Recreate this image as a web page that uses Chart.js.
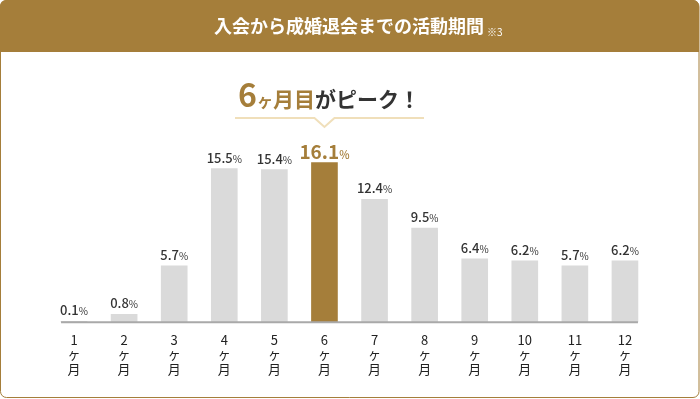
<!DOCTYPE html>
<html lang="ja">
<head>
<meta charset="utf-8">
<script src="https://cdn.jsdelivr.net/npm/chart.js@4/dist/chart.umd.min.js"></script>
<style>
  html, body { margin: 0; padding: 0; background: #fff; }
  #wrap { width: 700px; height: 399px; position: relative; }
</style>
</head>
<body>
<div id="wrap"><canvas id="myChart" width="700" height="399"></canvas></div>
<script>
// data
const months = [1, 2, 3, 4, 5, 6, 7, 8, 9, 10, 11, 12];
const shares = [0.1, 0.8, 5.7, 15.5, 15.4, 16.1, 12.4, 9.5, 6.4, 6.2, 5.7, 6.2];
const peakIndex = 5;
const title = '入会から成婚退会までの活動期間';
const titleNote = '※3';

const BROWN = '#a57e3a';
const GRAY = '#dadada';
const FONT = '"Noto Sans CJK JP", "Noto Sans", sans-serif';

const labels = months.map(m => [String(m), 'ヶ', '月']);

const frame = {
    id: 'frame',
    beforeDraw(chart) {
        const c = chart.ctx;
        const w = chart.width, h = chart.height;
        c.save();
        // outline box
        c.fillStyle = '#fff';
        c.strokeStyle = BROWN;
        c.lineWidth = 1;
        c.beginPath();
        c.roundRect(0.5, 0.5, w - 1.5, h - 2, 6);
        c.fill();
        c.stroke();
        // header
        c.fillStyle = BROWN;
        c.beginPath();
        c.roundRect(0, 0, w - 1, 52, [6, 6, 0, 0]);
        c.fill();
        c.fillStyle = '#fff';
        c.textBaseline = 'middle';
        c.font = 'bold 18px ' + FONT;
        const tw = c.measureText(title).width;
        c.font = '10px ' + FONT;
        const nw = c.measureText(titleNote).width;
        let x = 214;
        c.font = 'bold 18px ' + FONT;
        c.textAlign = 'left';
        c.fillText(title, x, 26);
        c.font = '10px ' + FONT;
        c.fillText(titleNote, x + tw + 3, 32);
        c.restore();
    },
    afterDatasetsDraw(chart) {
        const c = chart.ctx;
        const meta = chart.getDatasetMeta(0);
        const xs = chart.scales.x;
        const base = chart.scales.y.getPixelForValue(0);
        c.save();
        // axis line
        c.strokeStyle = '#a9a9a9';
        c.lineWidth = 2;
        c.beginPath();
        c.moveTo(xs.getPixelForValue(0) - 13, base);
        c.lineTo(xs.getPixelForValue(months.length - 1) + 13, base);
        c.stroke();
        // value labels
        c.textBaseline = 'alphabetic';
        c.textAlign = 'left';
        meta.data.forEach((bar, i) => {
            const peak = i === peakIndex;
            const num = shares[i].toFixed(1);
            const nf = peak ? 'bold 19px ' + FONT : '500 13px ' + FONT;
            const pf = peak ? '500 11px ' + FONT : '10px ' + FONT;
            c.font = nf;
            const w1 = c.measureText(num).width;
            c.font = pf;
            const w2 = c.measureText('%').width;
            const x0 = bar.x - (w1 + w2) / 2;
            const y0 = bar.y - (peak ? 4 : 6);
            c.fillStyle = peak ? BROWN : '#333';
            c.font = nf;
            c.fillText(num, x0, y0);
            c.font = pf;
            c.fillText('%', x0 + w1, y0);
        });
        // callout
        const cx = xs.getPixelForValue(peakIndex);
        c.textBaseline = 'alphabetic';
        const parts = [
            { t: '6', f: 'bold 32px ' + FONT, col: BROWN },
            { t: 'ヶ', f: 'bold 16px ' + FONT, col: BROWN },
            { t: '月目', f: 'bold 21px ' + FONT, col: BROWN },
            { t: 'がピーク！', f: 'bold 21px ' + FONT, col: '#333' }
        ];
        let total = 0;
        parts.forEach(p => { c.font = p.f; p.w = c.measureText(p.t).width; total += p.w; });
        let px = 329 - total / 2;
        parts.forEach(p => {
            c.font = p.f; c.fillStyle = p.col;
            c.fillText(p.t, px, 107);
            px += p.w;
        });
        c.strokeStyle = '#f0dfba';
        c.lineWidth = 2;
        c.beginPath();
        c.moveTo(235, 118);
        c.lineTo(cx - 10, 118);
        c.lineTo(cx, 127);
        c.lineTo(cx + 10, 118);
        c.lineTo(424, 118);
        c.stroke();
        c.restore();
    }
};

new Chart(document.getElementById('myChart').getContext('2d'), {
    type: 'bar',
    data: {
        labels: labels,
        datasets: [{
            data: shares,
            backgroundColor: shares.map((v, i) => i === peakIndex ? BROWN : GRAY),
            barThickness: 26,
            borderWidth: 0
        }]
    },
    options: {
        responsive: false,
        animation: false,
        layout: { padding: { left: 49, right: 50, top: 124, bottom: 13 } },
        plugins: { legend: { display: false }, tooltip: { enabled: false } },
        scales: {
            x: {
                grid: { display: false, drawTicks: false },
                border: { display: false },
                ticks: {
                    color: '#222',
                    font: { family: FONT, size: 13, lineHeight: 1.12 },
                    padding: 10,
                    maxRotation: 0,
                    autoSkip: false
                }
            },
            y: {
                display: false,
                min: 0,
                max: 20
            }
        }
    },
    plugins: [frame]
});
</script>
</body>
</html>
